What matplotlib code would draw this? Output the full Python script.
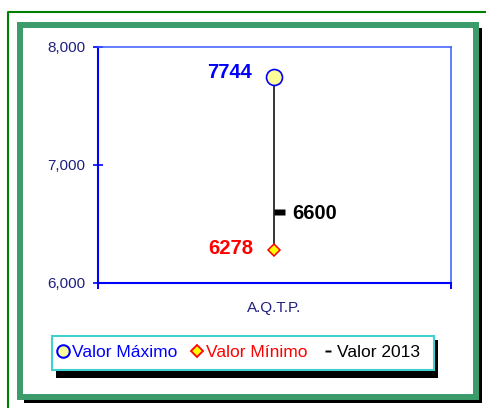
import numpy as np
import matplotlib
matplotlib.use('Agg')
import matplotlib.pyplot as plt
from matplotlib.patches import Rectangle
from matplotlib.lines import Line2D
from matplotlib.path import Path

plt.rcParams['font.family'] = ['Liberation Sans', 'DejaVu Sans']

categories = ['A.Q.T.P.']
valor_maximo = [7744]
valor_minimo = [6278]
valor_2013 = [6600]
y_ticks = [6000, 7000, 8000]
legend_labels = ['Valor Máximo', 'Valor Mínimo', 'Valor 2013']

W, H = 486, 408
fig = plt.figure(figsize=(W / 100, H / 100), dpi=100)


def px_rect(x0, y0, x1, y1, **kw):
    # box given in pixels from the top-left corner
    r = Rectangle((x0 / W, 1 - y1 / H), (x1 - x0) / W, (y1 - y0) / H,
                  transform=fig.transFigure, **kw)
    fig.add_artist(r)
    return r


def px_line(xs, ys, **kw):
    fig.add_artist(Line2D([v / W for v in xs], [1 - v / H for v in ys],
                          transform=fig.transFigure, **kw))


# decorative frames
px_line([8, 8, 486], [408, 12, 12], color='#008000', lw=1.5, zorder=-3)
px_rect(24, 28, 482, 403, facecolor='black', edgecolor='none', zorder=-3)
px_rect(20, 25, 475.5, 397, facecolor='white', edgecolor='#3b9b6b', lw=4.3, zorder=-2)

ax = fig.add_axes([97.5 / W, 1 - 282.7 / H, 353.2 / W, 236 / H])
x = np.arange(len(categories))

ax.vlines(x, valor_minimo, valor_maximo, colors='black', lw=1.1, zorder=2)
ax.plot(x, valor_maximo, 'o', ms=11.5, mfc='#ffff99', mec='#0000ff', mew=1.2, zorder=4)
ax.plot(x, valor_minimo, 'D', ms=6.6, mfc='#ffff00', mec='#ff0000', mew=1.1, zorder=4)
dash = Path([(0, -0.25), (1, -0.25), (1, 0.25), (0, 0.25), (0, -0.25)], closed=True)
ax.plot(x, valor_2013, ls='none', marker=dash, ms=15.8, mfc='black', mec='none', zorder=3)

for i in x:
    ax.annotate(str(valor_maximo[i]), (i, valor_maximo[i]), xytext=(-16, 3.5),
                textcoords='offset points', ha='right', va='center',
                fontsize=14.5, fontweight='bold', color='#0000ff')
    ax.annotate(str(valor_minimo[i]), (i, valor_minimo[i]), xytext=(-15, 1),
                textcoords='offset points', ha='right', va='center',
                fontsize=14.5, fontweight='bold', color='#ff0000')
    ax.annotate(str(valor_2013[i]), (i, valor_2013[i]), xytext=(13, -1),
                textcoords='offset points', ha='left', va='center',
                fontsize=14.5, fontweight='bold', color='black')

ax.set_xlim(-0.5, len(categories) - 0.5)
ax.set_ylim(6000, 8000)
ax.set_xticks(x, labels=categories)
ax.set_xticks(np.arange(len(categories) + 1) - 0.5, minor=True)
ax.tick_params(axis='x', which='major', length=0, pad=13.5, labelsize=11, labelcolor='#202080')
ax.tick_params(axis='x', which='minor', length=4, width=1.4, color='#0000ff', direction='out')
ax.set_yticks(y_ticks, labels=[f'{v:,}' for v in y_ticks])
ax.tick_params(axis='y', direction='inout', length=7.5, width=1.2, color='#0000ff',
               pad=5, labelsize=11, labelcolor='#202080')

for side in ['left', 'bottom']:
    ax.spines[side].set_color('#0000ff')
    ax.spines[side].set_linewidth(1.5)
for side in ['top', 'right']:
    ax.spines[side].set_color('#3b5bff')
    ax.spines[side].set_linewidth(1.1)

# legend box with its shadow
px_rect(56, 340, 438, 378, facecolor='black', edgecolor='none', zorder=3)
px_rect(52, 336, 434, 370, facecolor='white', edgecolor='#40d0d0', lw=1.5, zorder=4)

small_dash = Path([(-1, -0.5), (1, -0.5), (1, 0.5), (-1, 0.5), (-1, -0.5)], closed=True)
handles = [
    Line2D([], [], ls='none', marker='o', ms=9, mfc='#ffff99', mec='#0000ff', mew=1.5),
    Line2D([], [], ls='none', marker='D', ms=6, mfc='#ffff00', mec='#ff0000', mew=1.3),
    Line2D([], [], ls='none', marker=small_dash, ms=4.3, mfc='black', mec='none'),
]
fig.legend(handles, legend_labels, loc='center left', bbox_to_anchor=(56.1 / W, 1 - 352 / H),
           ncol=3, frameon=False, borderpad=0, borderaxespad=0, handlelength=0.8,
           handletextpad=0.12, columnspacing=0.75, fontsize=12.5,
           labelcolor=['#0000ff', '#ff0000', 'black'])

fig.savefig('out.png', dpi=100)
